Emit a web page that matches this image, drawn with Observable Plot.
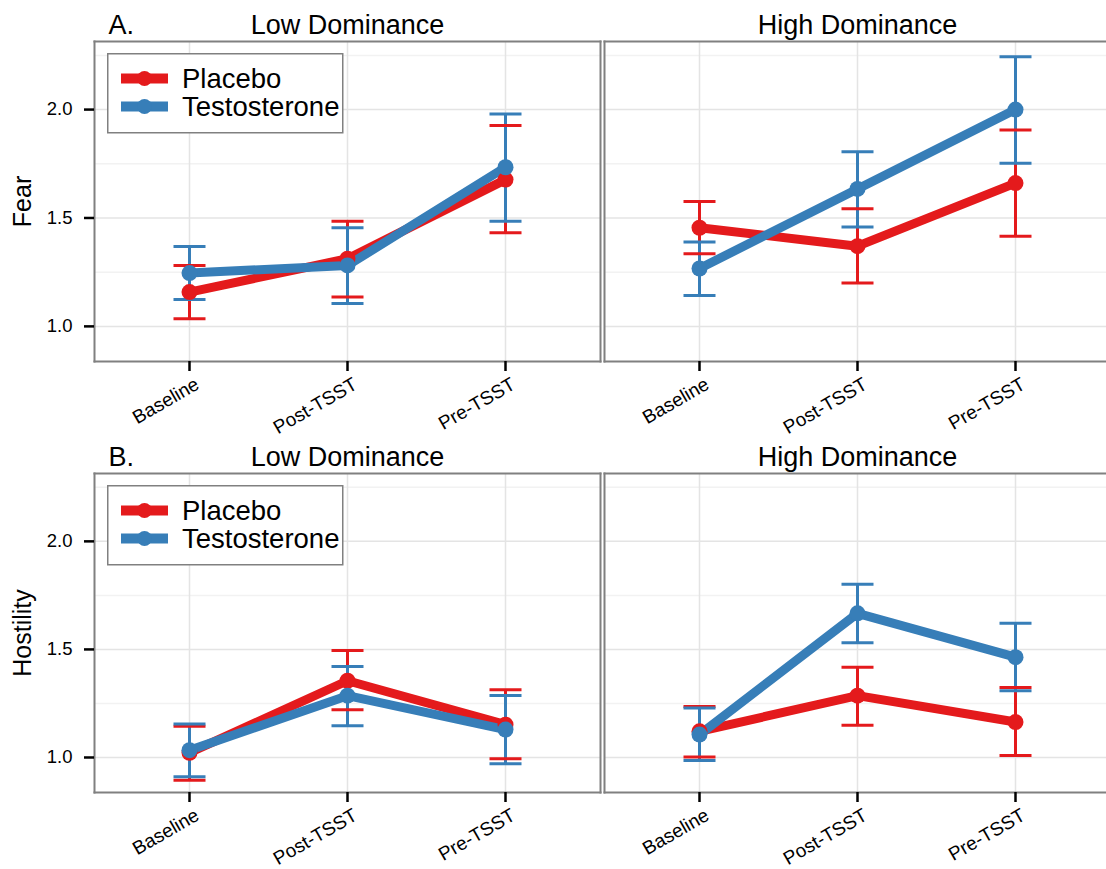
<!DOCTYPE html>
<html><head><meta charset="utf-8">
<script src="https://cdn.jsdelivr.net/npm/d3@7"></script>
<script src="https://cdn.jsdelivr.net/npm/@observablehq/plot@0.6"></script>
<style>
html,body{margin:0;padding:0;background:#fff;overflow:hidden;}
#root{position:relative;width:1106px;height:869px;overflow:hidden;background:#fff;font-family:"Liberation Sans",Arial,Helvetica,sans-serif;}
#root svg{max-width:none !important;}
.row{position:relative;width:1106px;overflow:visible;}
.legend{position:absolute;}
</style></head><body><div id="root"></div>
<script>
// ---- data ----
const categories = ["Baseline", "Post-TSST", "Pre-TSST"];
const groups = ["Placebo", "Testosterone"];
const dominance = ["Low Dominance", "High Dominance"];
const colors = ["#E41A1C", "#377EB8"];
const yTicks = [1.0, 1.5, 2.0];
const yMinorTicks = [1.25, 1.75, 2.25];

// Fear
const fearLowPlaceboMean  = [1.158, 1.312, 1.677];
const fearLowPlaceboLo    = [1.035, 1.135, 1.432];
const fearLowPlaceboHi    = [1.281, 1.485, 1.926];
const fearLowTestoMean    = [1.246, 1.281, 1.734];
const fearLowTestoLo      = [1.124, 1.105, 1.485];
const fearLowTestoHi      = [1.369, 1.455, 1.980];
const fearHighPlaceboMean = [1.455, 1.370, 1.661];
const fearHighPlaceboLo   = [1.335, 1.200, 1.416];
const fearHighPlaceboHi   = [1.576, 1.542, 1.906];
const fearHighTestoMean   = [1.267, 1.634, 2.000];
const fearHighTestoLo     = [1.143, 1.458, 1.753];
const fearHighTestoHi     = [1.389, 1.806, 2.244];

// Hostility
const hostLowPlaceboMean  = [1.022, 1.355, 1.152];
const hostLowPlaceboLo    = [0.895, 1.221, 0.994];
const hostLowPlaceboHi    = [1.144, 1.495, 1.313];
const hostLowTestoMean    = [1.034, 1.286, 1.129];
const hostLowTestoLo      = [0.911, 1.147, 0.971];
const hostLowTestoHi      = [1.155, 1.421, 1.287];
const hostHighPlaceboMean = [1.121, 1.286, 1.164];
const hostHighPlaceboLo   = [1.002, 1.149, 1.009];
const hostHighPlaceboHi   = [1.236, 1.418, 1.324];
const hostHighTestoMean   = [1.106, 1.667, 1.464];
const hostHighTestoLo     = [0.986, 1.531, 1.309];
const hostHighTestoHi     = [1.229, 1.802, 1.621];

// ---- build tables ----
function series(dom, group, mean, lo, hi) {
  return categories.map((c, i) => ({dom, group, time: c, mean: mean[i], lo: lo[i], hi: hi[i]}));
}
const fearData = [
  ...series("Low Dominance", "Placebo", fearLowPlaceboMean, fearLowPlaceboLo, fearLowPlaceboHi),
  ...series("Low Dominance", "Testosterone", fearLowTestoMean, fearLowTestoLo, fearLowTestoHi),
  ...series("High Dominance", "Placebo", fearHighPlaceboMean, fearHighPlaceboLo, fearHighPlaceboHi),
  ...series("High Dominance", "Testosterone", fearHighTestoMean, fearHighTestoLo, fearHighTestoHi)
];
const hostData = [
  ...series("Low Dominance", "Placebo", hostLowPlaceboMean, hostLowPlaceboLo, hostLowPlaceboHi),
  ...series("Low Dominance", "Testosterone", hostLowTestoMean, hostLowTestoLo, hostLowTestoHi),
  ...series("High Dominance", "Placebo", hostHighPlaceboMean, hostHighPlaceboLo, hostHighPlaceboHi),
  ...series("High Dominance", "Testosterone", hostHighTestoMean, hostHighTestoLo, hostHighTestoHi)
];

const capSymbol = {
  draw(context, size) {
    const w = Math.sqrt(size / Math.PI);
    context.moveTo(-w, 0);
    context.lineTo(w, 0);
  }
};

const FONT = "Liberation Sans, Arial, Helvetica, sans-serif";
const frameStyle = {stroke: "#808080", strokeWidth: 2};

function makeRow(data, letter, measure, height, marginTop, marginBottom) {
  const plot = Plot.plot({
    width: 1116,
    height,
    marginLeft: 94,
    marginRight: 0,
    marginTop,
    marginBottom,
    style: {fontFamily: FONT, fontSize: "18.5px", color: "black", background: "none", overflow: "visible", maxWidth: "none"},
    fx: {domain: dominance, paddingInner: 0.0088, paddingOuter: 0.0054, align: 0, axis: null, label: null},
    x: {type: "point", domain: categories, padding: 0.6, label: null},
    y: {domain: [0.838, 2.314], label: null},
    color: {domain: groups, range: colors},
    marks: [
      Plot.gridY(yMinorTicks, {stroke: "#f2f2f2", strokeOpacity: 1, strokeWidth: 1.5}),
      Plot.gridY(yTicks, {stroke: "#e4e4e4", strokeOpacity: 1, strokeWidth: 1.5}),
      Plot.gridX({stroke: "#e4e4e4", strokeOpacity: 1, strokeWidth: 1.5}),
      Plot.frame({anchor: "top", ...frameStyle}),
      Plot.frame({anchor: "bottom", ...frameStyle}),
      Plot.frame({anchor: "left", ...frameStyle}),
      Plot.frame({anchor: "right", fx: ["Low Dominance"], ...frameStyle}),
      Plot.axisY(yTicks, {tickFormat: d3.format(".1f"), tickSize: 10, tickPadding: 12, fontSize: 18.5, strokeWidth: 2.5, label: null}),
      Plot.axisX({tickSize: 10, tickFormat: () => "", strokeWidth: 2.5, label: null}),
      Plot.text(categories, {x: d => d, text: d => d, frameAnchor: "bottom", rotate: -30, textAnchor: "end", lineAnchor: "bottom", dx: 11, dy: 26.5, fontSize: 19, fill: "black"}),
      Plot.ruleX(data, {fx: "dom", x: "time", y1: "lo", y2: "hi", stroke: "group", strokeWidth: 3}),
      Plot.dot(data, {fx: "dom", x: "time", y: "lo", stroke: "group", fill: "none", symbol: capSymbol, r: 16, strokeWidth: 3}),
      Plot.dot(data, {fx: "dom", x: "time", y: "hi", stroke: "group", fill: "none", symbol: capSymbol, r: 16, strokeWidth: 3}),
      Plot.line(data, {fx: "dom", x: "time", y: "mean", stroke: "group", z: "group", strokeWidth: 9}),
      Plot.dot(data, {fx: "dom", x: "time", y: "mean", fill: "group", r: 8}),
      Plot.text(dominance, {fx: d => d, text: d => d, frameAnchor: "top", textAnchor: "middle", lineAnchor: "bottom", dy: -8, fontSize: 27, fill: "black"}),
      Plot.text([letter], {fx: () => "Low Dominance", text: d => d, frameAnchor: "top-left", textAnchor: "start", lineAnchor: "bottom", dx: 14, dy: -8, fontSize: 27, fill: "black"}),
      Plot.text([measure], {fx: () => "Low Dominance", text: d => d, frameAnchor: "left", textAnchor: "middle", lineAnchor: "middle", rotate: -90, dx: -72, fontSize: 25, fill: "black"})
    ]
  });
  const row = document.createElement("div");
  row.className = "row";
  row.style.height = height + "px";
  row.appendChild(plot);

  // legend
  const lg = d3.create("svg").attr("class", "legend")
    .attr("width", 237).attr("height", 81)
    .style("left", "107px").style("top", (marginTop + 12) + "px")
    .style("font-family", FONT);
  lg.append("rect").attr("x", 0.75).attr("y", 0.75).attr("width", 235).attr("height", 79)
    .attr("fill", "white").attr("stroke", "#808080").attr("stroke-width", 1.5);
  groups.forEach((g, i) => {
    const y = 25.5 + i * 28;
    lg.append("line").attr("x1", 14).attr("x2", 61).attr("y1", y).attr("y2", y)
      .attr("stroke", colors[i]).attr("stroke-width", 10);
    lg.append("circle").attr("cx", 37.5).attr("cy", y).attr("r", 7.5).attr("fill", colors[i]);
    lg.append("text").attr("x", 75).attr("y", y).attr("dy", "0.35em")
      .attr("font-size", 27.5).attr("fill", "black").text(g);
  });
  row.appendChild(lg.node());
  return row;
}

const root = document.getElementById("root");
root.appendChild(makeRow(fearData, "A.", "Fear", 434, 41, 73));
root.appendChild(makeRow(hostData, "B.", "Hostility", 435, 39, 77));
</script></body></html>
